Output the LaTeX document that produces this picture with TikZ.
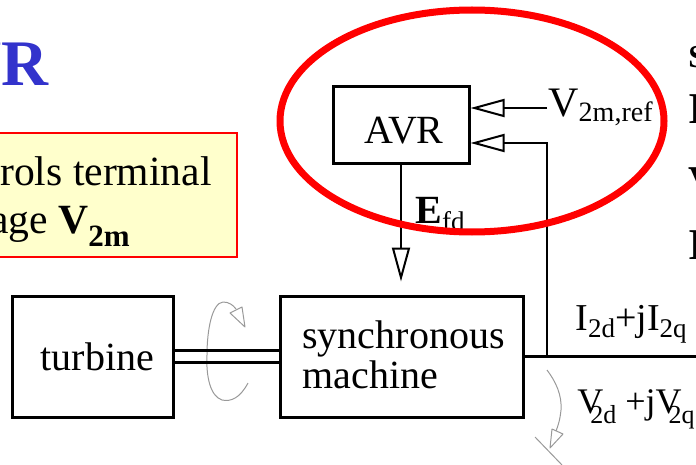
\documentclass[tikz,border=0pt]{standalone}
\usepackage{fontspec}
\setmainfont{Liberation Serif}
\usetikzlibrary{arrows.meta}
\definecolor{titleblue}{RGB}{51,51,204}
\definecolor{notefill}{RGB}{255,255,204}
% lowered subscript: #1 = drop, #2 = size, #3 = text
\newcommand\lowsub[3]{\raisebox{-#1}{\fontsize{#2}{#2}\selectfont #3}}
\begin{document}
\begin{tikzpicture}[x=0.5pt,y=-0.5pt,
  blk/.style={draw, line width=1.5pt, inner sep=0pt},
  sig/.style={line width=1pt, -{Triangle[open, length=17pt, width=9pt, line width=1pt]}},
  txt/.style={inner sep=0pt, font=\fontsize{20}{24}\selectfont},
  notetxt/.style={inner sep=0pt, anchor=base east, font=\fontsize{20.8}{24}\selectfont},
  rot/.style={draw=gray!80, line width=0.5pt, line join=round},
  edge/.style={inner sep=0pt, anchor=base west, font=\bfseries\fontsize{22}{26}\selectfont}]
\useasboundingbox (0,0) rectangle (696,465);
\clip (0,0) rectangle (696,465);

% slide title and note box
\node[anchor=base east, inner sep=0pt, text=titleblue,
      font=\bfseries\fontsize{32.5}{36}\selectfont] (title) at (49,86) {AVR};
\node[draw=red, fill=notefill, line width=0.8pt, minimum width=124pt,
      minimum height=62pt, inner sep=0pt] (note) at (113,195) {};
\node[notetxt] (note1) at (212,185) {controls terminal};
\node[notetxt] (note2) at (130,233)
     {voltage \textbf{V}\lowsub{6.5pt}{15.5pt}{\textbf{2m}}};

% clipped text continuing at the right edge
\node[edge, font=\bfseries\fontsize{16}{18}\selectfont] (e1) at (688,68) {S};
\node[edge] (e2) at (688,124) {I};
\node[edge] (e3) at (688,197) {V};
\node[edge] (e4) at (688,259) {I};

% blocks
\node[blk, minimum width=68pt, minimum height=38pt] (avr) at (401,125) {};
\node[txt, anchor=base] (avrtxt) at (404,143) {AVR};
\node[blk, minimum width=121.5pt, minimum height=60.5pt] (sync) at (401.5,356.5) {};
\node[txt, anchor=base west] (syn1) at (302,348) {synchronous};
\node[txt, anchor=base west] (syn2) at (302,388) {machine};
\node[blk, minimum width=80.5pt, minimum height=60.5pt] (turb) at (92.5,356.5) {};
\node[txt, anchor=base] (turbtxt) at (97.5,370) {turbine};

% rotation mark around the shaft
\draw[rot] (248,383) .. controls (240,398) and (231,402) .. (222,400)
  .. controls (210,396) and (206,376) .. (207,355)
  .. controls (207,330) and (212,303) .. (223,302)
  .. controls (229,302) and (233,305) .. (236,309);
\draw[rot] (230,313) -- (245,327) -- (242,307) -- cycle;

% shaft
\draw[line width=1.6pt] ([yshift=3pt]turb.east) -- ([yshift=3pt]turb.east -| sync.west);
\draw[line width=1.2pt] ([yshift=-3pt]turb.east) -- ([yshift=-3pt]turb.east -| sync.west);

% terminal bus and signals
\coordinate (jn) at (547,356.5);
\coordinate (busend) at (700,356.5);
\coordinate (vrefin) at (547,108);
\draw[line width=1.5pt] (sync.east) -- (busend);
\draw[sig] (vrefin) -- (vrefin -| avr.east);
\draw[sig] (jn) |- ([yshift=-9pt]avr.east);
\draw[sig, shorten >=6.5pt] (avr.south) -- (avr.south |- sync.north);

% signal labels
\node[txt, anchor=base west, font=\fontsize{21}{24}\selectfont] (vref) at (548,117)
     {V\lowsub{2.5pt}{14pt}{2m,ref}};
\node[txt, anchor=base west] (efd) at (415,223) {\textbf{E}\lowsub{3.5pt}{13.5pt}{fd}};
\node[txt, anchor=base west, font=\fontsize{19}{22}\selectfont] (cur) at (575,330)
     {I\lowsub{3.5pt}{13.5pt}{2d}+jI\lowsub{3.5pt}{13.5pt}{2q}};
\node[txt, anchor=base west, font=\fontsize{18}{22}\selectfont] (volt) at (577,413)
     {V\kern-6.5pt\lowsub{5pt}{13pt}{2d} +jV\kern-6.5pt\lowsub{5pt}{13pt}{2q}};

% terminal voltage direction mark
\draw[rot] (547,370) .. controls (556,382) and (562,395) .. (561,410)
  .. controls (560,420) and (558,426) .. (556,431);
\draw[rot] (552,429) -- (550,448) -- (563,434) -- cycle;
\draw[rot] (535,437) -- (562,465);

% highlight ring
\draw[red, line width=3.5pt] (472,121) ellipse [x radius=192, y radius=111];
\end{tikzpicture}
\end{document}
